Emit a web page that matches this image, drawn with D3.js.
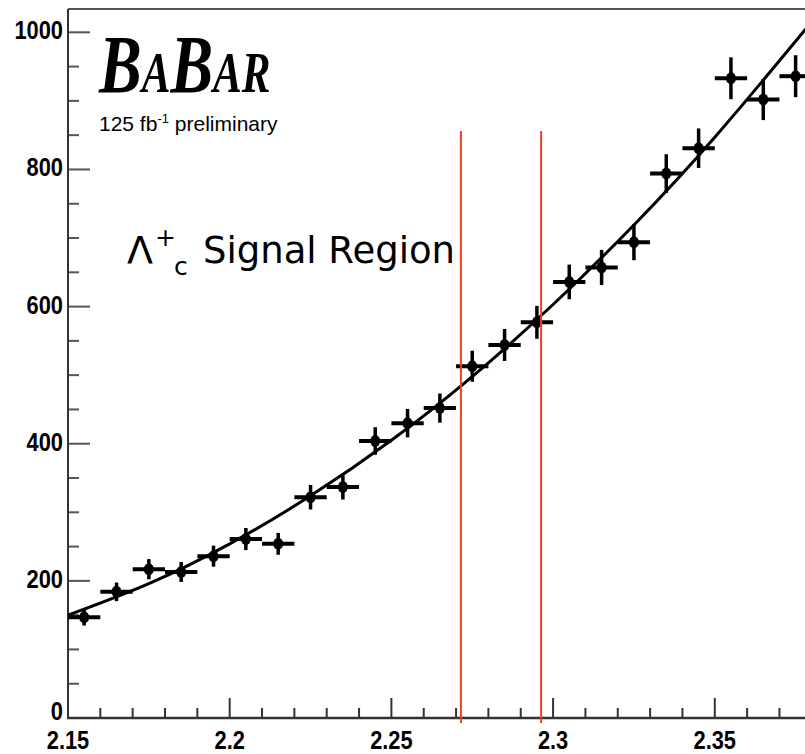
<!DOCTYPE html>
<html>
<head>
<meta charset="utf-8">
<script src="https://cdn.jsdelivr.net/npm/d3@7"></script>
<style>
  html, body { margin: 0; padding: 0; background: #fff; }
  svg { display: block; }
</style>
</head>
<body>
<script>
// ---- data ----
const binCenters = [2.155, 2.165, 2.175, 2.185, 2.195, 2.205, 2.215, 2.225, 2.235, 2.245, 2.255, 2.265,
                    2.275, 2.285, 2.295, 2.305, 2.315, 2.325, 2.335, 2.345, 2.355, 2.365, 2.375];
const counts = [147, 184, 217, 213, 236, 261, 254, 322, 337, 404, 430, 452,
                513, 544, 577, 636, 657, 694, 794, 831, 933, 902, 936];
const binWidth = 0.01;
const fitX = [2.15, 2.175, 2.2, 2.225, 2.25, 2.275, 2.3, 2.325, 2.35, 2.375, 2.378];
const fitY = [150, 196, 254, 324, 405, 498, 603, 719, 847, 987, 1004];
const signalEdges = [2.2715, 2.2963];
const xMajorTicks = [2.15, 2.2, 2.25, 2.3, 2.35];
const xTickLabels = ["2.15", "2.2", "2.25", "2.3", "2.35"];
const yMajorTicks = [0, 200, 400, 600, 800, 1000];
const yTickLabels = ["0", "200", "400", "600", "800", "1000"];

(function () {
const W = 805, H = 754;
const svg = d3.select("body").append("svg").attr("width", W).attr("height", H);

const pLeft = 68, pRight = 805, pTop = 9, pBottom = 718;
const x = d3.scaleLinear().domain([2.15, 2.3779]).range([pLeft, pRight]);
const y = d3.scaleLinear().domain([0, 1034]).range([pBottom, pTop]);

const axisColor = "#333";

// ticks x
const xMinor = d3.range(0, 23).map(i => 2.15 + i * 0.01).filter(v => x(v) <= pRight);
svg.append("g").selectAll("line").data(xMinor).join("line")
  .attr("x1", d => x(d)).attr("x2", d => x(d))
  .attr("y1", pBottom).attr("y2", d => xMajorTicks.some(m => Math.abs(m - d) < 1e-6) ? pBottom - 20 : pBottom - 10)
  .attr("stroke", axisColor).attr("stroke-width", 2);

// ticks y
const yMinor = d3.range(0, 21).map(i => i * 50);
svg.append("g").selectAll("line").data(yMinor).join("line")
  .attr("x1", pLeft).attr("x2", d => d % 200 === 0 ? pLeft + 22 : pLeft + 11)
  .attr("y1", d => y(d)).attr("y2", d => y(d))
  .attr("stroke", "#555").attr("stroke-width", 2);

// frame
svg.append("line").attr("x1", pLeft).attr("x2", pRight).attr("y1", pTop).attr("y2", pTop)
  .attr("stroke", "#555").attr("stroke-width", 2);
svg.append("line").attr("x1", pLeft).attr("x2", pLeft).attr("y1", pTop).attr("y2", pBottom + 1)
  .attr("stroke", axisColor).attr("stroke-width", 2);
svg.append("line").attr("x1", pLeft - 1).attr("x2", pRight).attr("y1", pBottom).attr("y2", pBottom)
  .attr("stroke", axisColor).attr("stroke-width", 2.5);

// tick labels (condensed bold look)
const labelFont = "'Liberation Sans', Arial, sans-serif";
const sx = 0.84;
svg.append("g").selectAll("text").data(xMajorTicks).join("text")
  .attr("transform", d => `translate(${x(d)},${pBottom + 31}) scale(${sx},1)`)
  .attr("text-anchor", "middle")
  .attr("font-family", labelFont).attr("font-weight", "bold").attr("font-size", 26)
  .attr("fill", "#000")
  .text((d, i) => xTickLabels[i]);
svg.append("g").selectAll("text").data(yMajorTicks).join("text")
  .attr("transform", d => `translate(${pLeft - 5},${y(d) + (d === 0 ? 2 : 7)}) scale(${sx},1)`)
  .attr("text-anchor", "end")
  .attr("font-family", labelFont).attr("font-weight", "bold").attr("font-size", 26)
  .attr("fill", "#000")
  .text((d, i) => yTickLabels[i]);

// fit curve
const line = d3.line().x(d => x(d[0])).y(d => y(d[1])).curve(d3.curveNatural);
svg.append("path").datum(fitX.map((v, i) => [v, fitY[i]]))
  .attr("d", line).attr("fill", "none").attr("stroke", "#000").attr("stroke-width", 3);

// data points with error bars
const pts = svg.append("g");
binCenters.forEach((c, i) => {
  const n = counts[i], e = Math.sqrt(n);
  pts.append("line").attr("x1", x(c - binWidth / 2)).attr("x2", Math.min(x(c + binWidth / 2), pRight))
    .attr("y1", y(n)).attr("y2", y(n)).attr("stroke", "#000").attr("stroke-width", 4);
  pts.append("line").attr("x1", x(c)).attr("x2", x(c))
    .attr("y1", y(n - e)).attr("y2", y(n + e)).attr("stroke", "#000").attr("stroke-width", 3.5);
  pts.append("ellipse").attr("cx", x(c)).attr("cy", y(n)).attr("rx", 5).attr("ry", 6).attr("fill", "#000");
});

// signal region lines
svg.append("g").selectAll("line").data(signalEdges).join("line")
  .attr("x1", d => x(d)).attr("x2", d => x(d))
  .attr("y1", 131).attr("y2", pBottom + 5)
  .attr("stroke", "#f0401e").attr("stroke-width", 2);

// BaBar logo
const logo = svg.append("text").attr("x", 0).attr("y", 0)
  .attr("transform", "translate(99,92) scale(0.77,1)")
  .attr("font-family", "'Liberation Serif', 'Times New Roman', serif")
  .attr("font-style", "italic").attr("font-weight", "bold").attr("fill", "#000");
logo.append("tspan").attr("font-size", 83).text("B");
logo.append("tspan").attr("font-size", 56).text("A");
logo.append("tspan").attr("font-size", 83).text("B");
logo.append("tspan").attr("font-size", 56).text("AR");

const lum = svg.append("text").attr("x", 99).attr("y", 131)
  .attr("font-family", "'Liberation Sans', Arial, sans-serif")
  .attr("font-size", 21).attr("fill", "#000");
lum.append("tspan").text("125 fb");
lum.append("tspan").attr("dy", -8).attr("font-size", 13).text("-1");
lum.append("tspan").attr("dy", 8).text(" preliminary");

// signal region label
const lblFont = "'DejaVu Sans', Verdana, sans-serif";
svg.append("text").attr("x", 127).attr("y", 263).attr("font-family", lblFont)
  .attr("font-size", 38).attr("fill", "#000").text("Λ");
svg.append("text").attr("x", 155).attr("y", 246).attr("font-family", lblFont)
  .attr("font-size", 25).attr("fill", "#000").text("+");
svg.append("text").attr("x", 174).attr("y", 275).attr("font-family", lblFont)
  .attr("font-size", 25).attr("fill", "#000").text("c");
svg.append("text").attr("x", 203).attr("y", 263).attr("font-family", lblFont)
  .attr("font-size", 38).attr("fill", "#000")
  .attr("textLength", 252).attr("lengthAdjust", "spacingAndGlyphs").text("Signal Region");
})();
</script>
</body>
</html>
